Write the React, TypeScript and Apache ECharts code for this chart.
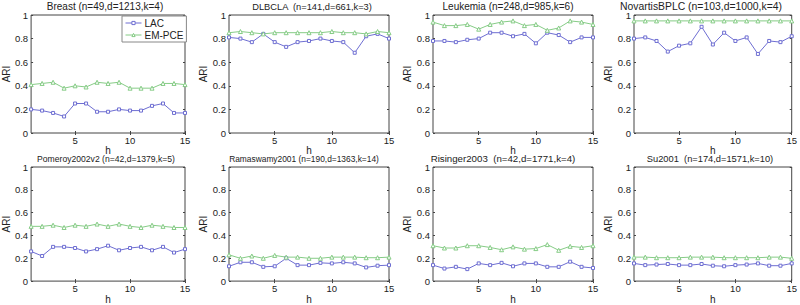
import React, { useEffect, useRef } from "react";
import * as echarts from "echarts";

const hValues = [1, 2, 3, 4, 5, 6, 7, 8, 9, 10, 11, 12, 13, 14, 15];
const xTickValues = [5, 10, 15];

const panelTitles = [
  "Breast (n=49,d=1213,k=4)",
  "DLBCLA  (n=141,d=661,k=3)",
  "Leukemia (n=248,d=985,k=6)",
  "NovartisBPLC (n=103,d=1000,k=4)",
  "Pomeroy2002v2 (n=42,d=1379,k=5)",
  "Ramaswamy2001 (n=190,d=1363,k=14)",
  "Risinger2003  (n=42,d=1771,k=4)",
  "Su2001  (n=174,d=1571,k=10)",
];

const lacBreast = [0.2, 0.19, 0.17, 0.14, 0.25, 0.25, 0.18, 0.18, 0.2, 0.19, 0.19, 0.23, 0.25, 0.17, 0.17];
const emBreast = [0.41, 0.42, 0.43, 0.38, 0.4, 0.39, 0.43, 0.42, 0.43, 0.38, 0.38, 0.38, 0.42, 0.42, 0.41];
const lacDLBCLA = [0.81, 0.8, 0.77, 0.84, 0.77, 0.73, 0.77, 0.78, 0.8, 0.78, 0.77, 0.68, 0.82, 0.84, 0.8];
const emDLBCLA = [0.85, 0.86, 0.85, 0.84, 0.85, 0.85, 0.85, 0.85, 0.85, 0.86, 0.85, 0.85, 0.84, 0.86, 0.85];
const lacLeukemia = [0.78, 0.78, 0.77, 0.79, 0.8, 0.85, 0.85, 0.82, 0.84, 0.76, 0.85, 0.83, 0.77, 0.81, 0.81];
const emLeukemia = [0.94, 0.91, 0.91, 0.92, 0.88, 0.92, 0.94, 0.95, 0.91, 0.92, 0.87, 0.89, 0.95, 0.94, 0.92];
const lacNovartis = [0.8, 0.81, 0.78, 0.69, 0.74, 0.76, 0.9, 0.75, 0.85, 0.78, 0.81, 0.67, 0.78, 0.77, 0.82];
const emNovartis = [0.95, 0.95, 0.95, 0.95, 0.95, 0.95, 0.95, 0.95, 0.95, 0.95, 0.95, 0.95, 0.95, 0.95, 0.95];
const lacPomeroy = [0.26, 0.22, 0.3, 0.3, 0.29, 0.26, 0.28, 0.31, 0.27, 0.29, 0.3, 0.27, 0.3, 0.25, 0.28];
const emPomeroy = [0.48, 0.48, 0.49, 0.47, 0.49, 0.48, 0.5, 0.48, 0.5, 0.48, 0.47, 0.49, 0.48, 0.47, 0.47];
const lacRamaswamy = [0.13, 0.165, 0.165, 0.125, 0.13, 0.2, 0.14, 0.14, 0.16, 0.155, 0.165, 0.155, 0.12, 0.135, 0.14];
const emRamaswamy = [0.23, 0.2, 0.22, 0.2, 0.225, 0.21, 0.21, 0.2, 0.2, 0.21, 0.21, 0.21, 0.205, 0.205, 0.21];
const lacRisinger = [0.14, 0.11, 0.125, 0.105, 0.155, 0.14, 0.16, 0.13, 0.155, 0.155, 0.125, 0.125, 0.17, 0.125, 0.115];
const emRisinger = [0.31, 0.29, 0.29, 0.31, 0.31, 0.295, 0.275, 0.3, 0.28, 0.285, 0.32, 0.27, 0.305, 0.295, 0.31];
const lacSu = [0.155, 0.14, 0.145, 0.15, 0.14, 0.14, 0.15, 0.135, 0.13, 0.14, 0.145, 0.155, 0.135, 0.135, 0.155];
const emSu = [0.21, 0.21, 0.205, 0.205, 0.205, 0.21, 0.21, 0.21, 0.205, 0.205, 0.205, 0.205, 0.21, 0.21, 0.2];

const lacSeries = [lacBreast, lacDLBCLA, lacLeukemia, lacNovartis, lacPomeroy, lacRamaswamy, lacRisinger, lacSu];
const emSeries = [emBreast, emDLBCLA, emLeukemia, emNovartis, emPomeroy, emRamaswamy, emRisinger, emSu];

// layout / style (not data)
const colLefts = [25, 229, 433, 634];
const rowTops = [15, 167];
const gridW = 160;
const gridH = 118;
const titleFontSizes = [10, 9.3, 10, 10.4, 8.6, 8.4, 9.7, 9.3];
const titleShiftX = [0, 3, -5, -13, 1, -5, -10, -4];
const LAC_COLOR = "#6e6ed2";
const EM_COLOR = "#86cc86";
const FONT = "Liberation Sans, Arial, sans-serif";

export default function App() {
  const ref = useRef<HTMLDivElement>(null);
  useEffect(() => {
    if (!ref.current) return;
    const chart = echarts.init(ref.current, undefined, { renderer: "svg" });
    const grids: any[] = [];
    const xAxes: any[] = [];
    const yAxes: any[] = [];
    const series: any[] = [];
    const titleTexts: any[] = [];
    for (let i = 0; i < 8; i++) {
      const col = i % 4;
      const row = Math.floor(i / 4);
      const left = colLefts[col];
      const top = rowTops[row];
      grids.push({ left, top, width: gridW, height: gridH, show: true, borderColor: "#444", borderWidth: 1, backgroundColor: "#fff" });
      titleTexts.push({
        type: "text",
        x: left + gridW / 2 + titleShiftX[i],
        y: top - 8.5,
        style: {
          text: panelTitles[i],
          textAlign: "center",
          textVerticalAlign: "middle",
          fontFamily: FONT,
          fontSize: titleFontSizes[i],
          fill: "#222",
        },
      });
      const axisLine = { show: false };
      xAxes.push({
        type: "value", gridIndex: i, min: 1, max: 15,
        name: "h", nameLocation: "middle", nameGap: 9,
        nameTextStyle: { fontFamily: FONT, fontSize: 10, lineHeight: 10, color: "#222" },
        axisLine,
        axisTick: { show: true, inside: true, length: 2, customValues: xTickValues, lineStyle: { color: "#444" } },
        axisLabel: { show: true, customValues: xTickValues, fontFamily: FONT, fontSize: 9.5, lineHeight: 10, color: "#222", margin: 2 },
        splitLine: { show: false },
      });
      xAxes.push({
        type: "value", gridIndex: i, min: 1, max: 15, position: "top",
        axisLine,
        axisTick: { show: true, inside: true, length: 2, customValues: xTickValues, lineStyle: { color: "#444" } },
        axisLabel: { show: false, customValues: xTickValues },
        splitLine: { show: false },
      });
      yAxes.push({
        type: "value", gridIndex: i, min: 0, max: 1, interval: 0.2,
        name: "ARI", nameLocation: "middle", nameGap: 17,
        nameTextStyle: { fontFamily: FONT, fontSize: 10, color: "#222" },
        axisLine,
        axisTick: { show: true, inside: true, length: 2, lineStyle: { color: "#444" } },
        axisLabel: { fontFamily: FONT, fontSize: 9.5, color: "#222", margin: 3 },
        splitLine: { show: false },
      });
      yAxes.push({
        type: "value", gridIndex: i, min: 0, max: 1, interval: 0.2, position: "right",
        axisLine,
        axisTick: { show: true, inside: true, length: 2, lineStyle: { color: "#444" } },
        axisLabel: { show: false },
        splitLine: { show: false },
      });
      series.push({
        name: "LAC", type: "line", xAxisIndex: 2 * i, yAxisIndex: 2 * i,
        data: hValues.map((h, k) => [h, lacSeries[i][k]]),
        symbol: "rect", symbolSize: 3, showAllSymbol: true,
        lineStyle: { color: LAC_COLOR, width: 1 },
        itemStyle: { color: "#fff", borderColor: LAC_COLOR, borderWidth: 1 },
        emphasis: { disabled: true },
      });
      series.push({
        name: "EM-PCE", type: "line", xAxisIndex: 2 * i, yAxisIndex: 2 * i,
        data: hValues.map((h, k) => [h, emSeries[i][k]]),
        symbol: "triangle", symbolSize: 4, showAllSymbol: true,
        lineStyle: { color: EM_COLOR, width: 1 },
        itemStyle: { color: "#fff", borderColor: EM_COLOR, borderWidth: 1 },
        emphasis: { disabled: true },
      });
    }
    chart.setOption({
      animation: false,
      backgroundColor: "#fff",
      grid: grids,
      xAxis: xAxes,
      yAxis: yAxes,
      series,
      graphic: titleTexts,
      legend: {
        data: [
          { name: "LAC", itemStyle: { color: "#fff", borderColor: LAC_COLOR, borderWidth: 1 }, lineStyle: { color: LAC_COLOR, width: 1 } },
          { name: "EM-PCE", itemStyle: { color: "#fff", borderColor: EM_COLOR, borderWidth: 1 }, lineStyle: { color: EM_COLOR, width: 1 } },
        ],
        orient: "vertical",
        left: 122,
        top: 16,
        itemWidth: 16,
        itemHeight: 4,
        itemGap: 2,
        padding: [2, 3, 2, 3],
        borderColor: "#888",
        borderWidth: 1,
        backgroundColor: "#fff",
        textStyle: { fontFamily: FONT, fontSize: 10, color: "#222", padding: [0, 0, 0, -2] },
      },
    });
    return () => chart.dispose();
  }, []);
  return <div ref={ref} style={{ width: 800, height: 305, position: "absolute", left: 0, top: 0 }} />;
}
